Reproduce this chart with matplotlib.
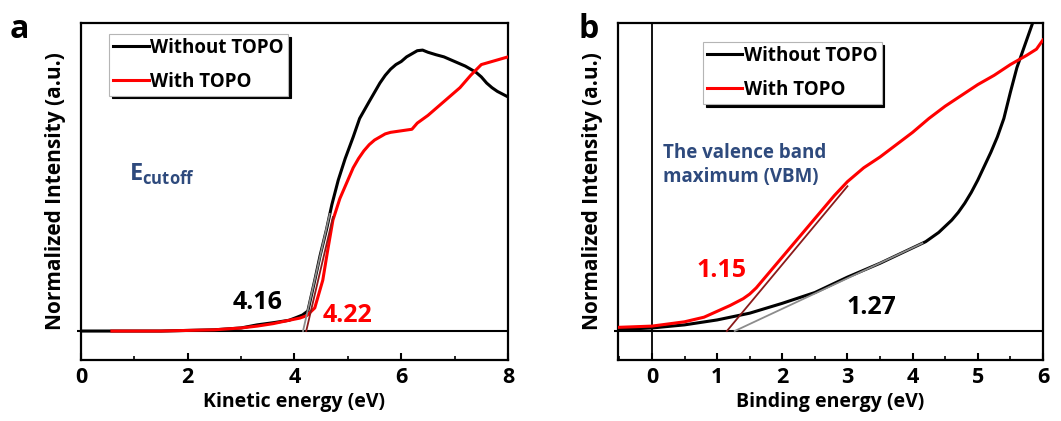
import numpy as np
import matplotlib
matplotlib.use('Agg')
import matplotlib.pyplot as plt
from matplotlib.ticker import MultipleLocator

plt.rcParams['font.family'] = ['Open Sans', 'DejaVu Sans']
plt.rcParams['font.weight'] = 'bold'
plt.rcParams['mathtext.fontset'] = 'custom'
plt.rcParams['mathtext.bf'] = 'Open Sans:bold'
plt.rcParams['mathtext.rm'] = 'Open Sans:bold'

# ---- (a) secondary electron cutoff ----
ke_without = [0.0, 0.5, 1.0, 1.5, 2.0, 2.5, 3.0, 3.3, 3.6, 3.9, 4.05, 4.15, 4.25,
              4.38, 4.48, 4.6, 4.7, 4.82, 4.95, 5.1, 5.22, 5.4, 5.5, 5.6, 5.7,
              5.8, 5.9, 6.0, 6.1, 6.2, 6.3, 6.4, 6.5, 6.65, 6.8, 7.0, 7.2, 7.4,
              7.5, 7.6, 7.7, 7.8, 8.0]
int_without_a = [0.0, 0.0, 0.0, 0.0, 0.002, 0.004, 0.01, 0.02, 0.027, 0.035, 0.045,
                 0.052, 0.065, 0.165, 0.245, 0.33, 0.41, 0.49, 0.56, 0.63, 0.69,
                 0.745, 0.775, 0.805, 0.83, 0.85, 0.865, 0.875, 0.89, 0.9, 0.91,
                 0.912, 0.905, 0.897, 0.89, 0.875, 0.86, 0.84, 0.825, 0.805,
                 0.79, 0.778, 0.76]
ke_with = [0.58, 1.0, 1.5, 2.0, 2.5, 3.0, 3.3, 3.6, 3.9, 4.1, 4.23, 4.38, 4.53,
           4.62, 4.72, 4.85, 5.0, 5.1, 5.2, 5.3, 5.4, 5.5, 5.6, 5.7, 5.8, 6.0,
           6.2, 6.3, 6.5, 6.7, 6.9, 7.1, 7.3, 7.5, 7.7, 7.9, 8.0]
int_with_a = [0.0, 0.0, 0.0, 0.002, 0.004, 0.01, 0.016, 0.024, 0.035, 0.042, 0.05,
              0.075, 0.165, 0.26, 0.36, 0.43, 0.49, 0.53, 0.56, 0.585, 0.605,
              0.62, 0.63, 0.64, 0.645, 0.65, 0.655, 0.675, 0.70, 0.73, 0.76,
              0.79, 0.83, 0.865, 0.875, 0.885, 0.89]
cutoff_without = 4.16
cutoff_with = 4.22

# ---- (b) valence band region ----
be_without = [-0.52, 0.0, 0.5, 1.0, 1.5, 2.0, 2.5, 3.0, 3.5, 4.0, 4.2, 4.4, 4.5,
              4.6, 4.7, 4.8, 4.9, 5.0, 5.1, 5.2, 5.3, 5.4, 5.5, 5.6, 5.7, 5.8, 5.9]
int_without_b = [0.005, 0.01, 0.02, 0.036, 0.058, 0.09, 0.125, 0.175, 0.22, 0.27,
                 0.29, 0.32, 0.34, 0.36, 0.385, 0.415, 0.45, 0.49, 0.535, 0.58,
                 0.63, 0.69, 0.775, 0.855, 0.915, 0.975, 1.035]
be_with = [-0.52, 0.0, 0.5, 0.8, 1.0, 1.2, 1.4, 1.5, 1.6, 1.7, 1.8, 1.9, 2.0, 2.2,
           2.4, 2.6, 2.8, 3.0, 3.25, 3.5, 3.75, 4.0, 4.25, 4.5, 4.75, 5.0, 5.25,
           5.5, 5.75, 5.9, 6.0]
int_with_b = [0.012, 0.016, 0.03, 0.045, 0.064, 0.083, 0.105, 0.12, 0.14, 0.165,
              0.19, 0.215, 0.24, 0.29, 0.34, 0.39, 0.44, 0.485, 0.53, 0.565,
              0.605, 0.645, 0.69, 0.73, 0.765, 0.80, 0.83, 0.865, 0.895, 0.915,
              0.945]
vbm_with = 1.15
vbm_without = 1.27

label_blue = '#2e4a7d'
fit_grey = '#8c8c8c'
fit_red = '#8b1a1a'

fig = plt.figure(figsize=(10.61, 4.21), dpi=100)
ax1 = fig.add_axes([0.0763, 0.1449, 0.4025, 0.8005])
ax2 = fig.add_axes([0.5825, 0.1449, 0.4005, 0.8005])


def style_axes(ax, xlim, major, minor, xlabel):
    ax.set_xlim(*xlim)
    ax.set_ylim(-0.094, 1.0)
    ax.xaxis.set_major_locator(MultipleLocator(major))
    ax.xaxis.set_minor_locator(MultipleLocator(minor))
    ax.set_yticks([0])
    ax.set_yticklabels([])
    ax.tick_params(axis='x', which='major', direction='in', length=5, width=1.5,
                   labelsize=15.5, pad=5)
    ax.tick_params(axis='x', which='minor', direction='in', length=3, width=1.2)
    ax.tick_params(axis='y', direction='out', length=3, width=1.5)
    for lab in ax.get_xticklabels():
        lab.set_fontweight('bold')
    for s in ax.spines.values():
        s.set_linewidth(1.6)
    ax.axhline(0, color='black', lw=1.5, zorder=1)
    ax.set_xlabel(xlabel, fontsize=14, fontweight='bold', labelpad=3)
    ax.set_ylabel('Normalized Intensity (a.u.)', fontsize=15, fontweight='bold',
                  labelpad=4)


def add_legend(ax, x0, y0):
    leg = ax.legend(loc='upper left', bbox_to_anchor=(x0, y0), borderaxespad=0,
                    fontsize=13.5, handlelength=1.9, handletextpad=0.1,
                    borderpad=0.2, labelspacing=0.75, fancybox=False,
                    edgecolor='#b5b5b5', framealpha=1,
                    shadow={'color': 'black', 'alpha': 1})
    leg.get_frame().set_linewidth(0.8)
    for t in leg.get_texts():
        t.set_fontweight('bold')


# panel a
ax1.plot(ke_without, int_without_a, color='black', lw=2.2, label='Without TOPO', zorder=3)
ax1.plot(ke_with, int_with_a, color='red', lw=2.2, label='With TOPO', zorder=4)
ax1.plot([cutoff_without, 4.66], [0, 0.38], color=fit_grey, lw=1.3, zorder=5)
ax1.plot([cutoff_with, 4.72], [0, 0.37], color=fit_red, lw=1.3, zorder=5)
style_axes(ax1, (0, 8), 2, 1, 'Kinetic energy (eV)')
add_legend(ax1, 0.066, 0.967)
ax1.text(3.31, 0.094, f'{cutoff_without:.2f}', fontsize=18, fontweight='bold',
         color='black', ha='center', va='center')
ax1.text(5.0, 0.05, f'{cutoff_with:.2f}', fontsize=18, fontweight='bold',
         color='red', ha='center', va='center')
ax1.text(0.9, 0.51, r'$\mathbf{E}_{\mathbf{cutoff}}$', fontsize=17, color=label_blue,
         ha='left', va='center')

# panel b
ax2.plot(be_without, int_without_b, color='black', lw=2.2, label='Without TOPO', zorder=3)
ax2.plot(be_with, int_with_b, color='red', lw=2.2, label='With TOPO', zorder=4)
ax2.plot([vbm_with, 3.0], [0, 0.47], color=fit_red, lw=1.3, zorder=5)
ax2.plot([vbm_without, 4.15], [0, 0.285], color=fit_grey, lw=1.3, zorder=5)
ax2.axvline(0, color='black', lw=1.3, zorder=1)
style_axes(ax2, (-0.52, 6), 1, 0.5, 'Binding energy (eV)')
add_legend(ax2, 0.2, 0.943)
ax2.text(1.06, 0.198, f'{vbm_with:.2f}', fontsize=18, fontweight='bold',
         color='red', ha='center', va='center')
ax2.text(3.36, 0.075, f'{vbm_without:.2f}', fontsize=18, fontweight='bold',
         color='black', ha='center', va='center')
ax2.text(0.17, 0.54, 'The valence band\nmaximum (VBM)', fontsize=13.5, fontweight='bold',
         color=label_blue, ha='left', va='center', linespacing=1.25)

fig.text(0.009, 0.93, 'a', fontsize=23, fontweight='bold', va='center')
fig.text(0.545, 0.93, 'b', fontsize=23, fontweight='bold', va='center')

fig.savefig('out.png', dpi=100)
